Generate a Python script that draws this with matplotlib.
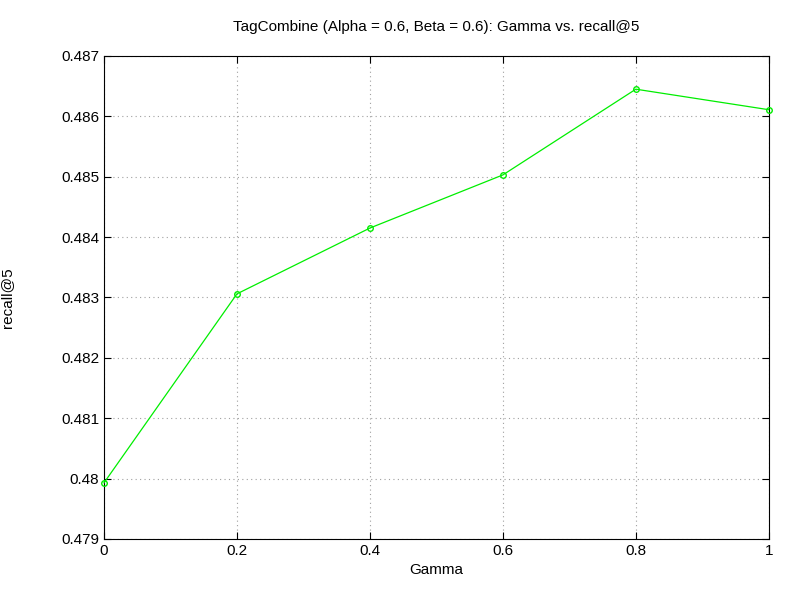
import matplotlib
matplotlib.use("Agg")
import matplotlib.pyplot as plt

gamma = [0, 0.2, 0.4, 0.6, 0.8, 1.0]
recall5 = [0.47993, 0.48306, 0.48415, 0.48503, 0.48645, 0.48611]
yticks = [0.479, 0.48, 0.481, 0.482, 0.483, 0.484, 0.485, 0.486, 0.487]
xticks = [0, 0.2, 0.4, 0.6, 0.8, 1]

plt.rcParams["font.family"] = ["Liberation Sans", "DejaVu Sans"]
fig = plt.figure(figsize=(8, 6), dpi=100)
ax = fig.add_axes([0.13, 0.1017, 0.831, 0.805])

ax.plot(gamma, recall5, color="#00ee00", lw=0.9, marker="o", ms=4,
        mfc="none", mec="#00ee00", mew=1, clip_on=False, zorder=3)

ax.set_xlim(0, 1)
ax.set_ylim(0.479, 0.487)
ax.set_xticks(xticks)
ax.set_xticklabels([f"{t:g}" for t in xticks])
ax.set_yticks(yticks)
ax.set_yticklabels([f"{t:g}" for t in yticks])
ax.tick_params(direction="in", labelsize=11, length=5, top=True, right=True)
ax.grid(True, color="#a0a0a0", ls=(0, (1, 3)), lw=0.8)
for s in ax.spines.values():
    s.set_linewidth(0.8)

ax.set_xlabel("Gamma", fontsize=11)
ax.set_ylabel("recall@5", fontsize=11, labelpad=34)
ax.set_title("TagCombine (Alpha = 0.6, Beta = 0.6): Gamma vs. recall@5",
             fontsize=11, pad=18)

fig.savefig("out.png", dpi=100)
